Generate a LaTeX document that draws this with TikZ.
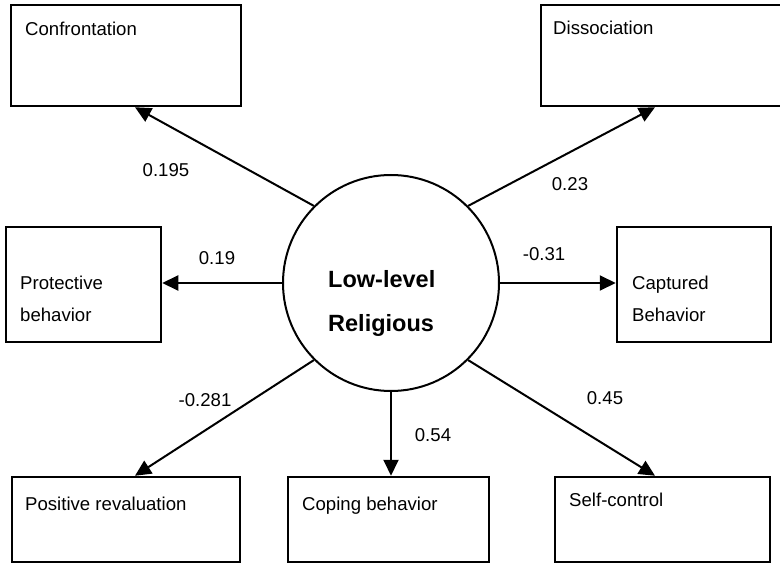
\documentclass[tikz,border=0pt]{standalone}
\usepackage{fontspec}
\setmainfont{Liberation Sans}
\usetikzlibrary{arrows.meta}
\begin{document}
\begin{tikzpicture}[x=1pt,y=-1pt,
  box/.style={draw, line width=2.5pt, inner sep=0pt, rectangle},
  lbl/.style={anchor=base west, inner sep=0pt, font=\fontsize{18.6}{22}\selectfont},
  ttl/.style={anchor=base west, inner sep=0pt, font=\fontsize{23.5}{28}\selectfont\bfseries},
  coef/.style={inner sep=0pt, font=\fontsize{18.6}{22}\selectfont},
  link/.style={line width=2pt, -{Triangle[length=16pt,width=15pt]}}]
\useasboundingbox (0,0) rectangle (780,564);

% outcome boxes
\node[box, minimum width=230pt, minimum height=101pt] (conf) at (126,55.5) {};
\node[box, minimum width=241pt, minimum height=101pt] (diss) at (661.5,55.5) {};
\node[box, minimum width=155pt, minimum height=115pt] (prot) at (83.5,284.5) {};
\node[box, minimum width=154pt, minimum height=115pt] (capt) at (694,284.5) {};
\node[box, minimum width=228pt, minimum height=85pt] (posr) at (126,519.5) {};
\node[box, minimum width=201pt, minimum height=85pt] (cope) at (388.5,519.5) {};
\node[box, minimum width=215pt, minimum height=85pt] (self) at (662.5,519.5) {};

% box captions
\node[lbl] (conf-t) at (25,36) {Confrontation};
\node[lbl] (diss-t) at (553,35) {Dissociation};
\node[lbl] (prot-t1) at (20,290) {Protective};
\node[lbl] (prot-t2) at (20,322) {behavior};
\node[lbl] (capt-t1) at (632,290) {Captured};
\node[lbl] (capt-t2) at (632,322) {Behavior};
\node[lbl] (posr-t) at (25,510) {Positive revaluation};
\node[lbl] (cope-t) at (302,510) {Coping behavior};
\node[lbl] (self-t) at (569,506) {Self-control};

% central construct
\node[draw, circle, line width=2pt, minimum size=216pt, inner sep=0pt] (circ) at (391,283) {};
\node[ttl] (circ-t1) at (328,288) {Low-level};
\node[ttl] (circ-t2) at (328,332) {Religious};

% paths
\draw[link] (circ.135) -- ([xshift=9pt]conf.south);
\draw[link] (circ.45) -- ([xshift=-6.5pt]diss.south);
\draw[link] (circ.180) -- (circ.180 -| prot.east);
\draw[link] (circ.0) -- (circ.0 -| capt.west);
\draw[link] (circ.225) -- ([xshift=9pt]posr.north);
\draw[link] (circ.270) -- (circ.270 |- cope.north);
\draw[link] (circ.315) -- ([xshift=-7.5pt]self.north);

% path coefficients
\node[coef] (c1) at (166,170) {0.195};
\node[coef] (c2) at (570,184) {0.23};
\node[coef] (c3) at (217,258) {0.19};
\node[coef] (c4) at (544,254) {-0.31};
\node[coef] (c5) at (205,400) {-0.281};
\node[coef] (c6) at (433,435) {0.54};
\node[coef] (c7) at (605,398) {0.45};
\end{tikzpicture}
\end{document}
